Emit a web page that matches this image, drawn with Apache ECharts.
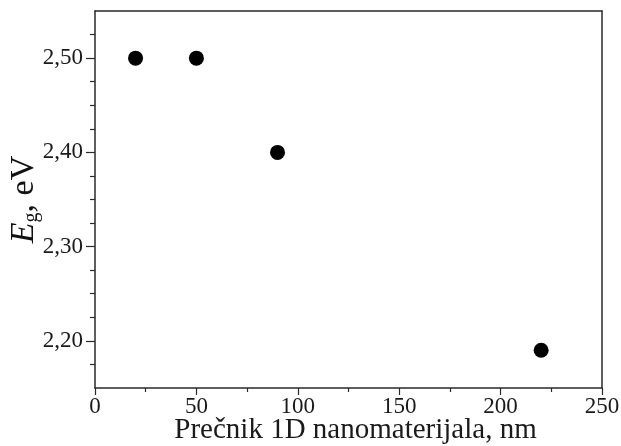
<!DOCTYPE html>
<html>
<head>
<meta charset="utf-8">
<script src="https://cdn.jsdelivr.net/npm/echarts@6/dist/echarts.min.js"></script>
<style>
  html, body { margin: 0; padding: 0; background: #fff; }
  #chart { width: 621px; height: 446px; }
</style>
</head>
<body>
<div id="chart"></div>
<script>
// Band gap vs. diameter of 1D nanomaterials
const diameters = [20, 50, 90, 220];          // nm
const bandGap = [2.50, 2.50, 2.40, 2.19];     // eV

const xMajorTicks = [0, 50, 100, 150, 200, 250];
const xMinorTicks = [25, 75, 125, 175, 225];
const yMajorTicks = [2.20, 2.30, 2.40, 2.50];
const yMinorTicks = [2.175, 2.225, 2.25, 2.275, 2.325, 2.35, 2.375, 2.425, 2.45, 2.475, 2.525];

const xTitle = 'Prečnik 1D nanomaterijala, nm';

const FONT = '"Liberation Serif", "DejaVu Serif", serif';
const LINE = '#2a2a2a';

const chart = echarts.init(document.getElementById('chart'), null, { renderer: 'canvas' });

const xBase = { type: 'value', min: 0, max: 250, interval: 25, splitLine: { show: false } };
const yBase = { type: 'value', min: 2.15, max: 2.55, interval: 0.025, splitLine: { show: false } };

chart.setOption({
  backgroundColor: '#fff',
  animation: false,
  grid: { left: 95, right: 19, top: 11, bottom: 58, containLabel: false, outerBoundsMode: 'none' },
  xAxis: [
    Object.assign({}, xBase, {
      position: 'bottom',
      axisLine: { show: true, onZero: false, lineStyle: { color: LINE, width: 1.5 } },
      axisTick: { show: true, inside: false, length: 7, customValues: xMajorTicks, lineStyle: { color: LINE, width: 1.2 } },
      axisLabel: { show: true, customValues: xMajorTicks, margin: 7, color: '#1a1a1a', fontFamily: FONT, fontSize: 23 },
      name: xTitle,
      nameLocation: 'middle',
      nameGap: 28,
      nameMoveOverlap: false,
      nameTextStyle: { color: '#1a1a1a', fontFamily: FONT, fontSize: 29, padding: [0, 0, 0, 14] }
    }),
    Object.assign({}, xBase, {
      position: 'bottom',
      axisLine: { show: false, onZero: false },
      axisTick: { show: true, inside: false, length: 4, customValues: xMinorTicks, lineStyle: { color: LINE, width: 1.2 } },
      axisLabel: { show: false }
    }),
    Object.assign({}, xBase, {
      position: 'top',
      axisLine: { show: true, onZero: false, lineStyle: { color: LINE, width: 1.5 } },
      axisTick: { show: false },
      axisLabel: { show: false }
    })
  ],
  yAxis: [
    Object.assign({}, yBase, {
      position: 'left',
      axisLine: { show: true, onZero: false, lineStyle: { color: LINE, width: 1.5 } },
      axisTick: { show: true, inside: false, length: 9, customValues: yMajorTicks, lineStyle: { color: LINE, width: 1.2 } },
      axisLabel: {
        show: true, customValues: yMajorTicks, margin: 12, color: '#1a1a1a', fontFamily: FONT, fontSize: 23,
        formatter: v => v.toFixed(2).replace('.', ',')
      },
      name: '{e|E}{g|g}{n|, eV}',
      nameLocation: 'middle',
      nameGap: 53,
      nameMoveOverlap: false,
      nameRotate: 90,
      nameTextStyle: {
        color: '#111',
        fontFamily: FONT,
        rich: {
          e: { fontFamily: FONT, fontSize: 34, fontStyle: 'italic', color: '#111', lineHeight: 36 },
          g: { fontFamily: FONT, fontSize: 20, color: '#111', verticalAlign: 'bottom', lineHeight: 26 },
          n: { fontFamily: FONT, fontSize: 34, color: '#111', lineHeight: 36 }
        }
      }
    }),
    Object.assign({}, yBase, {
      position: 'left',
      axisLine: { show: false, onZero: false },
      axisTick: { show: true, inside: false, length: 5, customValues: yMinorTicks, lineStyle: { color: LINE, width: 1.2 } },
      axisLabel: { show: false }
    }),
    Object.assign({}, yBase, {
      position: 'right',
      axisLine: { show: true, onZero: false, lineStyle: { color: LINE, width: 1.5 } },
      axisTick: { show: false },
      axisLabel: { show: false }
    })
  ],
  series: [{
    type: 'scatter',
    xAxisIndex: 0,
    yAxisIndex: 0,
    symbol: 'circle',
    symbolSize: 15,
    itemStyle: { color: '#000', opacity: 1 },
    data: diameters.map((d, i) => [d, bandGap[i]])
  }]
});
</script>
</body>
</html>
